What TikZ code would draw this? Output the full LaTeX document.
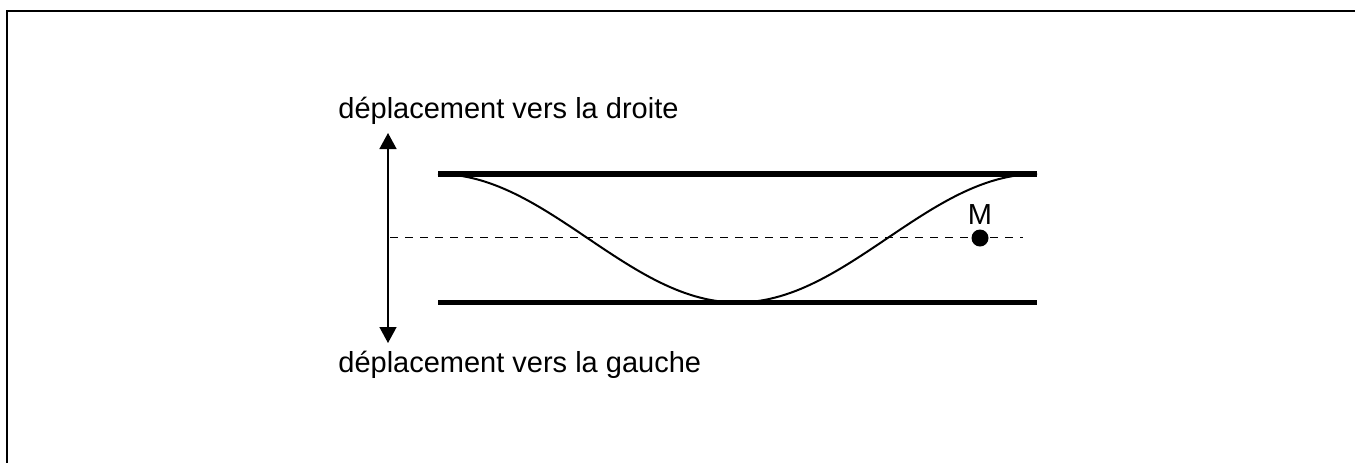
\documentclass[tikz,border=0pt]{standalone}
\usepackage{fontspec}
\setmainfont{Liberation Sans}
\usetikzlibrary{arrows.meta}

\begin{document}
\begin{tikzpicture}[
  x=0.5pt, y=-0.5pt,
  every node/.style={inner sep=0pt, font=\fontsize{14.5}{17}\selectfont},
  wall/.style={line width=2.6pt},
  rope/.style={line width=1pt},
  axis/.style={dashed, line width=0.5pt, dash pattern=on 4pt off 3.5pt},
  shift arrow/.style={line width=0.75pt, {Triangle[width=8.5pt,length=8pt]}-{Triangle[width=8.5pt,length=8pt]}},
  frame/.style={line width=0.75pt}
]
  \useasboundingbox (0,0) rectangle (1355,462);
  \draw[frame] (7,470) -- (7,11) -- (1365,11);

  % labels of the two directions
  \node[anchor=base west] (droite) at (338,118) {déplacement vers la droite};
  \node[anchor=base west] (gauche) at (338,372) {déplacement vers la gauche};
  \coordinate (up) at (388,133);
  \coordinate (down) at (388,343);
  \draw[shift arrow] (up) -- (down);

  % the two plates
  \coordinate (tl) at (438,174);
  \coordinate (tr) at (1037,174);
  \coordinate (bl) at (438,302.5);
  \coordinate (br) at (1037,302.5);
  \draw[wall] (tl) -- (tr);
  \draw[wall] (bl) -- (br);

  % rest position and the wave
  \coordinate (restL) at (390,237.5);
  \coordinate (restR) at (1023,237.5);
  \draw[axis] (restL) -- (restR);
  \draw[rope] plot[domain=0:360, samples=120] ({438+1.6639*\x}, {238.25-64.25*cos(\x)});

  \node[circle, fill=black, minimum size=8.5pt] (M) at (980,238) {};
  \node[anchor=base] (Mlabel) at (980,224) {M};
\end{tikzpicture}
\end{document}
